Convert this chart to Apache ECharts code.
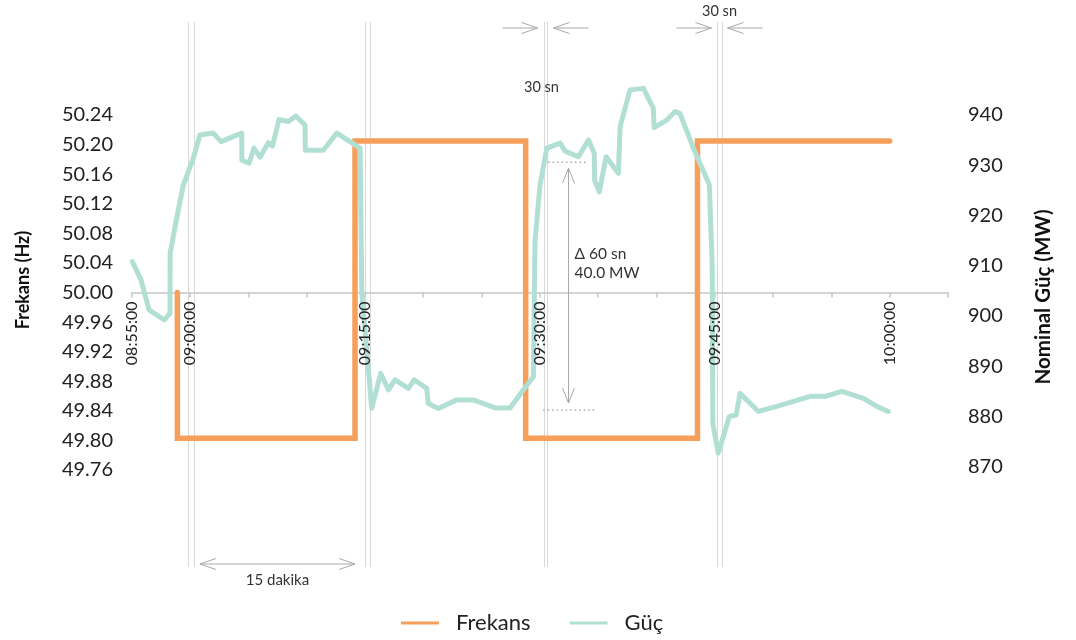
<!DOCTYPE html>
<html><head><meta charset="utf-8">
<script src="https://cdn.jsdelivr.net/npm/echarts@6/dist/echarts.min.js"></script>
<style>html,body{margin:0;padding:0;background:#fff}#c{width:1076px;height:640px}</style>
</head><body><div id="c"></div>
<script>
// ---------- DATA ----------
const freqTimes  = ["08:58:55","08:58:55","09:14:09","09:14:09","09:28:47","09:28:47","09:43:31","09:43:31","10:00:00"];
const freqValues = [50.00, 49.803, 49.803, 50.205, 50.205, 49.803, 49.803, 50.205, 50.205];

const powerTimes = ["08:55:03","08:55:48","08:56:29","08:57:48","08:58:17","08:58:18","08:58:46","08:59:26","09:00:17","09:00:51",
  "09:02:00","09:02:40","09:04:26","09:04:27","09:05:04","09:05:29","09:06:00","09:06:43","09:07:04","09:07:38",
  "09:08:26","09:09:04","09:09:52","09:09:53","09:11:26","09:12:35","09:14:35","09:14:44","09:15:35","09:16:21",
  "09:17:01","09:17:35","09:18:44","09:19:13","09:20:18","09:20:26","09:21:18","09:22:52","09:24:18","09:26:10",
  "09:27:27","09:28:35","09:29:27","09:29:35","09:30:01","09:30:36","09:31:44","09:32:10","09:33:18","09:34:10",
  "09:34:40","09:34:42","09:35:06","09:35:41","09:36:44","09:36:53","09:37:44","09:38:53","09:39:44","09:39:48",
  "09:40:53","09:41:36","09:42:01","09:43:10","09:44:32","09:44:47","09:44:50","09:45:18","09:46:15","09:46:50",
  "09:47:10","09:48:45","09:50:19","09:51:45","09:53:11","09:54:28","09:55:54","09:57:45","09:58:54","09:59:53"];
const powerValues = [910.8,907.2,901.2,899.2,900.5,912.5,918.4,926.1,931.4,936.0,
  936.4,934.7,936.4,931.0,930.4,933.4,931.6,934.5,933.8,939.1,
  938.7,939.8,938.0,933.0,933.0,936.4,933.4,904.5,881.6,888.6,
  885.3,887.3,885.6,887.3,885.6,882.6,881.6,883.3,883.3,881.7,
  881.7,885.3,887.9,914.8,926.1,933.4,934.4,932.8,931.7,935.0,
  932.4,927.0,924.7,931.7,928.4,937.7,945.0,945.3,941.3,937.5,
  939.0,940.7,940.3,933.4,926.1,909.8,878.6,872.7,880.0,880.3,
  884.6,881.0,882.0,883.0,884.0,884.0,885.0,883.6,882.0,881.0];

const xTickLabels     = ["08:55:00","09:00:00","09:15:00","09:30:00","09:45:00","10:00:00"];
const freqTickLabels  = ["49.76","49.80","49.84","49.88","49.92","49.96","50.00","50.04","50.08","50.12","50.16","50.20","50.24"];
const powerTickLabels = ["870","880","890","900","910","920","930","940"];
const seriesNames = ["Frekans","Güç"];

// annotations
const markerPairs = [["08:59:52","09:00:18"],["09:15:01","09:15:26"],["09:30:19","09:30:39"],["09:45:14","09:45:35"]];
const spanTimes   = ["09:00:51","09:14:09"];          // 15 dakika
const deltaTime   = "09:32:27";
const deltaPower  = [930.6, 881.3];
const deltaUpperSpan = ["09:30:42","09:34:08"];
const deltaLowerSpan = ["09:30:17","09:34:44"];

// ---------- HELPERS ----------
const toSec = s => { const p = s.split(":").map(Number); return p[0]*3600 + p[1]*60 + p[2]; };
const toStr = v => { v = Math.round(v); const h = Math.floor(v/3600), m = Math.floor((v%3600)/60), s = v%60;
  return [h,m,s].map(n => String(n).padStart(2,"0")).join(":"); };

const BASE = 50;
const xMin = toSec("08:55:00"), xMax = toSec("10:05:00");
const FONT = "Lato";
const ORANGE = "#F69F5B", MINT = "#B2DFD3";

const chart = echarts.init(document.getElementById("c"), null, {renderer: "canvas"});

const gridL = 131.7, gridR = 128;
const fMin = parseFloat(freqTickLabels[0]) - BASE, fMax = parseFloat(freqTickLabels[freqTickLabels.length-1]) - BASE;
const H0 = 355;
const xLabelFmt = v => { const s = toStr(v); return xTickLabels.includes(s) ? s : ""; };
const option = {
  animation: false,
  backgroundColor: "#fff",
  grid: [
    {left: gridL, right: gridR, top: 115, height: H0},
    {left: gridL, right: gridR, top: 115, height: 351.7},
    {left: gridL, right: gridR, top: 115, height: H0 * (fMax / (fMax - fMin))}
  ],
  legend: {
    data: seriesNames,
    left: 396, top: 605,
    icon: "rect", itemWidth: 38, itemHeight: 3, itemGap: 39,
    textStyle: {fontFamily: FONT, fontSize: 22, color: "#222", padding: [0,0,0,12], lineHeight: 26}
  },
  xAxis: [
    {gridIndex: 0, type: "value", min: xMin, max: xMax, show: false},
    {gridIndex: 1, type: "value", min: xMin, max: xMax, show: false},
    {gridIndex: 2, type: "value", min: xMin, max: xMax, interval: 300, position: "bottom", z: 0,
     axisLine: {onZero: false, lineStyle: {color: "#c6c6c6", width: 1.5}},
     axisTick: {show: true, length: 5, lineStyle: {color: "#c6c6c6", width: 1.5}},
     splitLine: {show: false},
     axisLabel: {show: false}
    },
    {gridIndex: 2, type: "value", min: xMin, max: xMax, interval: 300, position: "bottom", z: 10,
     axisLine: {show: false, onZero: false}, axisTick: {show: false}, splitLine: {show: false},
     axisLabel: {rotate: 90, margin: 9, fontFamily: FONT, fontSize: 16, color: "#222",
       showMaxLabel: false, formatter: xLabelFmt}
    }
  ],
  yAxis: [
    {gridIndex: 0, type: "value", min: fMin, max: fMax, interval: 0.04,
     axisLine: {show: false}, axisTick: {show: false}, splitLine: {show: false},
     axisLabel: {margin: 18.7, fontFamily: FONT, fontSize: 20, color: "#222",
       formatter: v => (v + BASE).toFixed(2)}
    },
    {gridIndex: 1, type: "value", position: "right",
     min: Number(powerTickLabels[0]), max: Number(powerTickLabels[powerTickLabels.length-1]), interval: 10,
     axisLine: {show: false}, axisTick: {show: false}, splitLine: {show: false},
     axisLabel: {margin: 20, fontFamily: FONT, fontSize: 20, color: "#222"}
    },
    {gridIndex: 2, type: "value", min: 0, max: 1, show: false}
  ],
  series: [
    {name: seriesNames[0], type: "line", xAxisIndex: 0, yAxisIndex: 0, clip: false,
     showSymbol: false, symbol: "none", color: ORANGE,
     lineStyle: {width: 5.5, color: ORANGE, cap: "round", join: "miter"},
     data: freqTimes.map((t, i) => [toSec(t), freqValues[i] - BASE])},
    {name: seriesNames[1], type: "line", xAxisIndex: 1, yAxisIndex: 1, clip: false,
     showSymbol: false, symbol: "none", color: MINT,
     lineStyle: {width: 5, color: MINT, cap: "round", join: "round"},
     data: powerTimes.map((t, i) => [toSec(t), powerValues[i]])}
  ]
};
chart.setOption(option);

// ---------- ANNOTATIONS (positions via axes) ----------
const px = t => chart.convertToPixel({xAxisIndex: 0}, toSec(t));
const py = v => chart.convertToPixel({yAxisIndex: 1}, v);
const G = [];
const ARROW = "#a9a9a9", VLINE = "#d8d8d8";
const lineEl = (x1,y1,x2,y2,stroke,w,dash,z) => ({type: "line", z: (z === undefined ? 1 : z), silent: true,
  shape: {x1,y1,x2,y2}, style: {stroke, lineWidth: w||1, lineDash: dash||null}});
const headH = (x,y,dir) => ({type: "polyline", z: 1, silent: true,
  shape: {points: [[x - dir*16, y - 5.5],[x, y],[x - dir*16, y + 5.5]]}, style: {stroke: ARROW, lineWidth: 1, fill: null}});
const headV = (x,y,dir) => ({type: "polyline", z: 1, silent: true,
  shape: {points: [[x - 6, y - dir*15],[x, y],[x + 6, y - dir*15]]}, style: {stroke: ARROW, lineWidth: 1, fill: null}});
const textEl = (x,y,text,size,align) => ({type: "text", z: 5, silent: true,
  style: {text, x, y, fill: "#333", font: (size||14) + "px " + FONT, textAlign: align || "center", textVerticalAlign: "middle"}});

const Y_TOP = 22, Y_BOT = 567;
markerPairs.forEach(p => p.forEach(t => { const x = Math.round(px(t)) + 0.5; G.push(lineEl(x, Y_TOP, x, Y_BOT, VLINE, 1, null, 0)); }));

// top "30 sn" arrows for the 09:30 and 09:45 pairs
[2,3].forEach(i => {
  const xa = px(markerPairs[i][0]), xb = px(markerPairs[i][1]), y = 28;
  G.push(lineEl(xa - 41, y, xa - 6, y, ARROW));
  G.push(headH(xa - 6, y, 1));
  G.push(lineEl(xb + 41, y, xb + 6, y, ARROW));
  G.push(headH(xb + 6, y, -1));
});
G.push(textEl((px(markerPairs[3][0]) + px(markerPairs[3][1]))/2, 11, "30 sn", 14.5));
G.push(textEl((px(markerPairs[2][0]) + px(markerPairs[2][1]))/2 - 4, 87, "30 sn", 14.5));

// 15 dakika
{
  const x1 = px(spanTimes[0]), x2 = px(spanTimes[1]), y = 564;
  G.push(lineEl(x1, y, x2, y, ARROW));
  G.push(headH(x1, y, -1));
  G.push(headH(x2, y, 1));
  G.push(textEl((x1 + x2)/2, 580, "15 dakika", 15));
}

// Delta annotation
{
  const yU = py(deltaPower[0]), yL = py(deltaPower[1]);
  G.push(lineEl(px(deltaUpperSpan[0]), yU, px(deltaUpperSpan[1]), yU, "#a9a9a9", 1.5, [1.5, 3]));
  G.push(lineEl(px(deltaLowerSpan[0]), yL, px(deltaLowerSpan[1]), yL, "#a9a9a9", 1.5, [1.5, 3]));
  const x = Math.round(px(deltaTime)) + 0.5;
  G.push(lineEl(x, yU + 6, x, yL - 7, ARROW));
  G.push(headV(x, yU + 6, -1));
  G.push(headV(x, yL - 7, 1));
  G.push(textEl(x + 6, 254, "Δ 60 sn", 15.5, "left"));
  G.push(textEl(x + 6, 273, "40.0 MW", 15.5, "left"));
}

// axis titles
G.push({type: "text", z: 5, silent: true, x: 23, y: 280, rotation: Math.PI/2,
  style: {text: "Frekans (Hz)", x: 0, y: 0, fill: "#111", font: "bold 18px " + FONT, textAlign: "center", textVerticalAlign: "middle"}});
G.push({type: "text", z: 5, silent: true, x: 1043, y: 297, rotation: Math.PI/2,
  style: {text: "Nominal Güç (MW)", x: 0, y: 0, fill: "#111", font: "bold 20.5px " + FONT, textAlign: "center", textVerticalAlign: "middle"}});

chart.setOption({graphic: {elements: G}});
</script>
</body></html>
